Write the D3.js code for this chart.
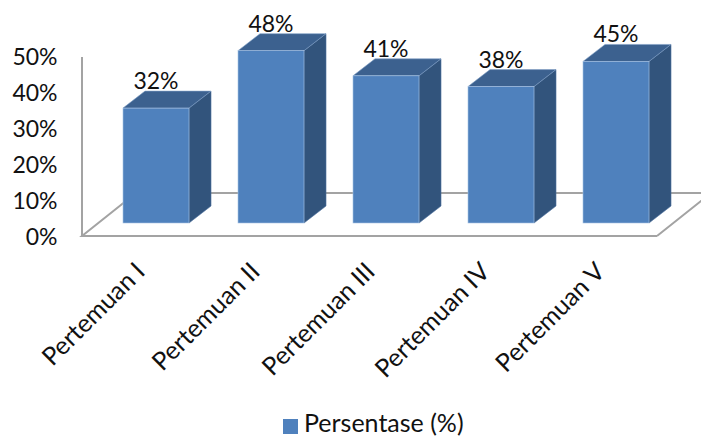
<!DOCTYPE html>
<html>
<head>
    <title></title>
    <style>
        html, body {
            margin: 0;
            background: #fff;
        }
        text {
            font-family: Lato, "Open Sans", sans-serif;
            fill: #111;
        }
        .floor, .domain {
            fill: none;
            stroke: #a3a3a3;
            stroke-width: 2px;
        }
    </style>
</head>
<body>
<script src="https://cdnjs.cloudflare.com/ajax/libs/d3/7.8.5/d3.min.js"></script>
<script>
    var categories = ["Pertemuan I", "Pertemuan II", "Pertemuan III", "Pertemuan IV", "Pertemuan V"];
    var values = [32, 48, 41, 38, 45];
    var yTicks = [0, 10, 20, 30, 40, 50];
    var seriesName = "Persentase (%)";

    var width = 701;
    var height = 437;

    // fake 3d: bars stand in from the front of the floor, depth is how far back they go
    var inset = {x: 16.5, y: 13};
    var depth = {x: 22, y: 17};
    var floorDepth = {x: 54, y: 43};

    var x = d3.scaleBand().domain(categories).range([82, 657]).paddingInner(0.426).paddingOuter(0.213);
    var y = d3.scaleLinear().domain([0, 50]).range([236, 56.5]);

    var svg = d3.select("body").append("svg")
            .attr("width", width)
            .attr("height", height)
            .style("display", "block");

    // floor, the far right corner runs off the edge of the svg
    var x0 = x.range()[0], x1 = x.range()[1], y0 = y(0);
    svg.append("path").attr("class", "floor")
            .attr("d", "M" + [x1, y0] + "L" + [x1 + floorDepth.x, y0 - floorDepth.y]
                + "L" + [x0 + floorDepth.x, y0 - floorDepth.y] + "L" + [x0, y0] + "L" + [x1, y0]);

    var yAxis = d3.axisLeft(y).tickValues(yTicks).tickSize(0).tickPadding(24)
            .tickFormat(function(d) {return d + "%";});
    var axisG = svg.append("g").attr("transform", "translate(81.5,0)").call(yAxis);
    axisG.selectAll("text").style("font-size", "23px").attr("dy", "0.36em");

    var bars = svg.selectAll(".bar").data(values).enter().append("g").attr("class", "bar");

    function bx(i) {return x(categories[i]) + inset.x;}
    function by(d) {return y(d) - inset.y;}
    var bottom = y(0) - inset.y;
    var w = x.bandwidth();

    // side
    bars.append("path")
            .attr("fill", "#32547c")
            .attr("stroke", "#4a6f9e")
            .attr("stroke-width", 0.6)
            .attr("d", function(d, i) {
                var r = bx(i) + w;
                return "M" + [r, by(d)] + "L" + [r + depth.x, by(d) - depth.y]
                    + "L" + [r + depth.x, bottom - depth.y] + "L" + [r, bottom] + "Z";
            });
    // top
    bars.append("path")
            .attr("fill", "#3c618f")
            .attr("stroke", "#7f9fc6")
            .attr("stroke-width", 0.6)
            .attr("d", function(d, i) {
                var l = bx(i), t = by(d);
                return "M" + [l, t] + "L" + [l + depth.x, t - depth.y]
                    + "L" + [l + w + depth.x, t - depth.y] + "L" + [l + w, t] + "Z";
            });
    // front
    bars.append("rect")
            .attr("x", function(d, i) {return bx(i);})
            .attr("y", by)
            .attr("width", w)
            .attr("height", function(d) {return bottom - by(d);})
            .attr("fill", "#4f81bd")
            .attr("stroke", "#a9c4e4")
            .attr("stroke-width", 0.6);

    // value labels sit just above the top face
    bars.append("text")
            .attr("x", function(d, i) {return bx(i) + 33;})
            .attr("y", function(d) {return by(d) - 19;})
            .attr("text-anchor", "middle")
            .style("font-size", "23px")
            .text(function(d) {return d + "%";});

    svg.selectAll(".cat").data(categories).enter().append("text")
            .attr("class", "cat")
            .attr("text-anchor", "end")
            .attr("transform", function(d) {
                return "translate(" + (x(d) + 40) + ",273)rotate(-45)";
            })
            .style("font-size", "25px")
            .text(function(d) {return d;});

    // legend
    svg.append("rect").attr("x", 283).attr("y", 419).attr("width", 15).attr("height", 15).attr("fill", "#4f81bd");
    svg.append("text").attr("x", 304).attr("y", 432).style("font-size", "25px").text(seriesName);
</script>
</body>
</html>
